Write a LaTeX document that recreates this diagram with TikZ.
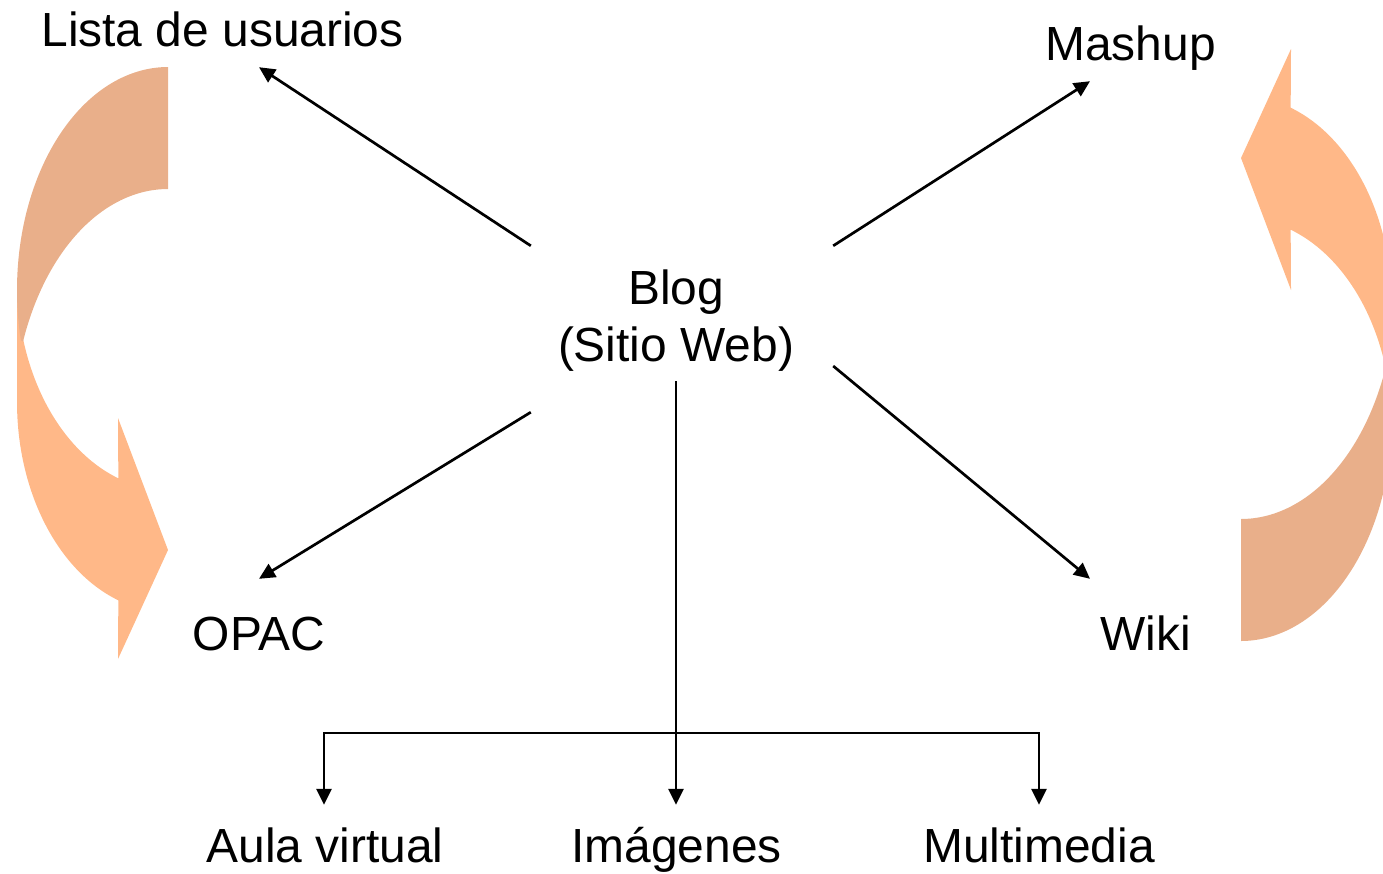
\documentclass[tikz,border=0pt]{standalone}
\usepackage{fontspec}
\setmainfont{Liberation Sans}
\usetikzlibrary{arrows.meta}
\definecolor{lightarrow}{RGB}{255,184,136}
\definecolor{darkarrow}{RGB}{233,175,138}
\tikzset{
  label/.style={font=\fontsize{47.9}{57}\selectfont,inner xsep=0pt,text height=35pt,text depth=10pt},
  link/.style={line width=2.7pt,-{Triangle[length=16pt,width=15pt]}},
}
\newcommand{\myCurvedArrow}{%
  \fill[lightarrow] (17,290) -- (17,402)
    -- plot[domain=0:70.8,samples=40,smooth] ({168-151*cos(\x)},{402+210*sin(\x)})
    -- (118,659) -- (168,550) -- (118,418)
    -- plot[domain=70.8:16.2,samples=40,smooth] ({168-151*cos(\x)},{280+210*sin(\x)})
    -- cycle;
  \fill[darkarrow]
    plot[domain=0:103,samples=50,smooth] ({168-151*sin(\x)},{290-223*cos(\x)})
    -- plot[domain=69.3:0,samples=40,smooth] ({168-155*sin(\x)},{425-236*cos(\x)})
    -- cycle;
}
\begin{document}
\begin{tikzpicture}[x=1pt,y=-1pt]
\useasboundingbox (0,0) rectangle (1383,873);
% curved block arrows
\myCurvedArrow
\begin{scope}
  \clip (0,0) rectangle (1383,873);
  \begin{scope}[shift={(1409,708)},xscale=-1,yscale=-1]
    \myCurvedArrow
  \end{scope}
\end{scope}
% nodes
\node[font=\fontsize{47.9}{57}\selectfont,align=center,inner sep=0pt,minimum width=290pt,minimum height=150pt] (blog) at (676,321) {Blog\\(Sitio Web)};
\node[label,anchor=base,inner ysep=11pt] (lista) at (222.5,46) {Lista de usuarios};
\node[label,anchor=base,inner ysep=11pt] (mashup) at (1130.5,60) {Mashup};
\node[label,anchor=base,inner ysep=36pt] (opac) at (259,650) {OPAC};
\node[label,anchor=base,inner ysep=36pt] (wiki) at (1145.5,650) {Wiki};
\node[label,anchor=base,inner ysep=22pt] (aula) at (325,862) {Aula virtual};
\node[label,anchor=base,inner ysep=22pt] (imagenes) at (676.5,862) {Imágenes};
\node[label,anchor=base,inner ysep=22pt] (multimedia) at (1039,862) {Multimedia};
% connectors
\draw[link] (blog.north west) -- ([xshift=36.5pt]lista.south);
\draw[link] ([xshift=12pt]blog.north east) -- ([xshift=-40.5pt]mashup.south);
\draw[link] ([yshift=-16pt]blog.south west) -- (opac.north);
\draw[link] ([xshift=12pt,yshift=-45pt]blog.east) -- ([xshift=-55.5pt]wiki.north);
\draw[link] ([yshift=15pt]blog.south) -- ([xshift=-0.5pt]imagenes.north);
\coordinate (bus) at (blog.south |- 0,733);
\draw[link] (bus) -| ([xshift=-1pt]aula.north);
\draw[link] (bus) -| (multimedia.north);
\end{tikzpicture}
\end{document}
